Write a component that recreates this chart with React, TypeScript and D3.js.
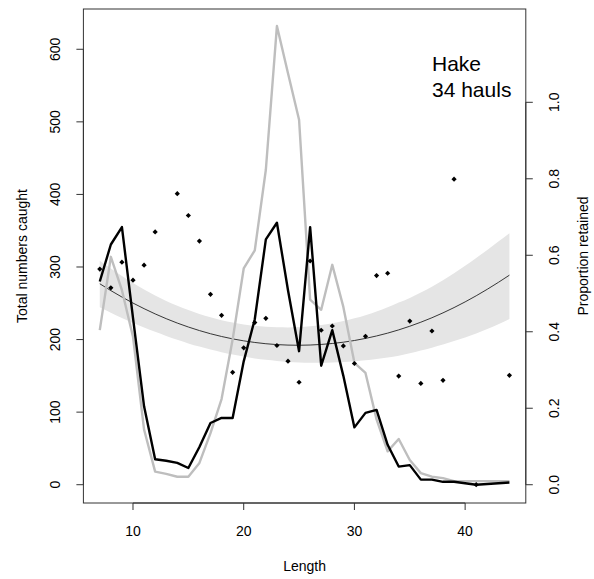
import React from "react";
import * as d3 from "d3";

// Length classes (cm)
const lengths = [7, 8, 9, 10, 11, 12, 13, 14, 15, 16, 17, 18, 19, 20, 21, 22, 23, 24, 25, 26, 27, 28, 29, 30, 31, 32, 33, 34, 35, 36, 37, 38, 39, 40, 41, 42, 43, 44];
// Total numbers caught: retained (black) and other gear (grey)
const catchBlack = [280, 331, 355, 230, 108, 35, 33, 30, 23, 52, 85, 92, 92, 170, 228, 338, 361, 268, 184, 355, 164, 213, 150, 79, 99, 103, 55, 25, 27, 7, 7, 4, 4, 2, 0, 1, 2, 3];
const catchGrey = [213, 314, 268, 204, 76, 18, 15, 11, 11, 30, 71, 118, 200, 298, 323, 434, 632, 567, 503, 255, 241, 303, 245, 168, 154, 90, 46, 63, 34, 16, 11, 9, 5, 5, 5, 5, 5, 5];
// Observed proportion retained
const propLengths = [7, 8, 9, 10, 11, 12, 14, 15, 16, 17, 18, 19, 20, 21, 22, 23, 24, 25, 26, 27, 28, 29, 30, 31, 32, 33, 34, 35, 36, 37, 38, 39, 41, 44];
const propValues = [0.564, 0.515, 0.582, 0.535, 0.574, 0.661, 0.761, 0.704, 0.637, 0.498, 0.443, 0.294, 0.358, 0.424, 0.435, 0.364, 0.323, 0.268, 0.585, 0.404, 0.415, 0.363, 0.317, 0.388, 0.547, 0.553, 0.284, 0.428, 0.265, 0.402, 0.273, 0.799, 0.0, 0.286];
// Fitted proportion and confidence band
const fitP = [0.5255, 0.5076, 0.4908, 0.475, 0.4604, 0.4467, 0.4342, 0.4227, 0.4124, 0.4031, 0.3948, 0.3876, 0.3814, 0.3762, 0.372, 0.3687, 0.3664, 0.3651, 0.3647, 0.3653, 0.3668, 0.3693, 0.3727, 0.3771, 0.3826, 0.389, 0.3964, 0.4049, 0.4144, 0.425, 0.4366, 0.4494, 0.4632, 0.4781, 0.4941, 0.5111, 0.5291, 0.548];
const fitLo = [0.4643, 0.4498, 0.4362, 0.4231, 0.4113, 0.3997, 0.389, 0.3788, 0.3696, 0.3612, 0.3534, 0.3465, 0.3403, 0.335, 0.3303, 0.3266, 0.3235, 0.3211, 0.3197, 0.319, 0.3189, 0.3195, 0.3207, 0.3226, 0.3253, 0.3285, 0.3326, 0.3373, 0.3439, 0.351, 0.3585, 0.3667, 0.3757, 0.3852, 0.3957, 0.4072, 0.4199, 0.4336];
const fitHi = [0.5859, 0.5652, 0.5457, 0.5275, 0.5103, 0.4948, 0.4806, 0.4679, 0.4566, 0.4466, 0.4378, 0.4304, 0.4242, 0.4193, 0.4156, 0.413, 0.4116, 0.4114, 0.4122, 0.4143, 0.4175, 0.4221, 0.4279, 0.435, 0.4433, 0.4529, 0.4639, 0.4762, 0.4885, 0.5024, 0.518, 0.5349, 0.5529, 0.5726, 0.593, 0.6141, 0.6357, 0.6576];

const xTicks = [10, 20, 30, 40];
const yLeftTicks = [0, 100, 200, 300, 400, 500, 600];
const yRightTicks = [0, 0.2, 0.4, 0.6, 0.8, 1.0];

const W = 594;
const H = 579;
const L = 83.4, R = 525.8, T = 9, B = 503;
const FONT = "'Liberation Sans', Arial, Helvetica, sans-serif";

export default function App() {
  const x = d3.scaleLinear().domain([5.52, 45.48]).range([L, R]);
  const yL = d3.scaleLinear().domain([-25.2, 655.5]).range([B, T]);
  const yR = d3.scaleLinear().domain([-0.0478, 1.244]).range([B, T]);

  const lineL = (vals: number[]) =>
    d3.line<number>().x((_, i) => x(lengths[i])).y((v) => yL(v))(vals) || "";
  const fitLine = d3.line<number>().x((_, i) => x(lengths[i])).y((v) => yR(v)).curve(d3.curveMonotoneX)(fitP) || "";
  const band = d3.area<number>()
    .x((_, i) => x(lengths[i]))
    .y0((_, i) => yR(fitLo[i]))
    .y1((_, i) => yR(fitHi[i]))
    .curve(d3.curveMonotoneX)(fitP) || "";

  const tick = 7;
  const axisColor = "#333";
  const fs = 14;

  return (
    <svg width={W} height={H} style={{ position: "absolute", left: 0, top: 0, background: "#fff" }} fontFamily={FONT}>
      <rect x={0} y={0} width={W} height={H} fill="#fff" />
      <path d={band} fill="#e5e5e5" stroke="none" />
      <path d={fitLine} fill="none" stroke="#222" strokeWidth={0.9} />
      <path d={lineL(catchGrey)} fill="none" stroke="#bebebe" strokeWidth={2.4} strokeLinejoin="round" />
      <path d={lineL(catchBlack)} fill="none" stroke="#000" strokeWidth={2.4} strokeLinejoin="round" />
      {propLengths.map((l, i) => {
        const cx = x(l), cy = yR(propValues[i]);
        const s = 2.6;
        return <path key={i} d={`M${cx},${cy - s}L${cx + s},${cy}L${cx},${cy + s}L${cx - s},${cy}Z`} fill="#000" />;
      })}

      {/* box */}
      <rect x={L} y={T} width={R - L} height={B - T} fill="none" stroke={axisColor} strokeWidth={1} />

      {/* bottom axis */}
      <line x1={x(xTicks[0])} x2={x(xTicks[xTicks.length - 1])} y1={B} y2={B} stroke={axisColor} />
      {xTicks.map((t) => (
        <g key={t}>
          <line x1={x(t)} x2={x(t)} y1={B} y2={B + tick} stroke={axisColor} />
          <text x={x(t)} y={531} dy="0.35em" textAnchor="middle" fontSize={fs} fill="#000">{t}</text>
        </g>
      ))}
      <text x={(L + R) / 2} y={566} dy="0.35em" textAnchor="middle" fontSize={fs} fill="#000">Length</text>

      {/* left axis */}
      <line x1={L} x2={L} y1={yL(0)} y2={yL(600)} stroke={axisColor} />
      {yLeftTicks.map((t) => (
        <g key={t}>
          <line x1={L - tick} x2={L} y1={yL(t)} y2={yL(t)} stroke={axisColor} />
          <text transform={`translate(${L - 28},${yL(t)}) rotate(-90)`} dy="0.35em" textAnchor="middle" fontSize={fs} fill="#000">{t}</text>
        </g>
      ))}
      <text transform={`translate(22,${(T + B) / 2}) rotate(-90)`} dy="0.35em" textAnchor="middle" fontSize={fs} fill="#000">Total numbers caught</text>

      {/* right axis */}
      <line x1={R} x2={R} y1={yR(0)} y2={yR(1)} stroke={axisColor} />
      {yRightTicks.map((t) => (
        <g key={t}>
          <line x1={R} x2={R + tick} y1={yR(t)} y2={yR(t)} stroke={axisColor} />
          <text transform={`translate(${R + 28},${yR(t)}) rotate(-90)`} dy="0.35em" textAnchor="middle" fontSize={fs} fill="#000">{t.toFixed(1)}</text>
        </g>
      ))}
      <text transform={`translate(583,${(T + B) / 2}) rotate(-90)`} dy="0.35em" textAnchor="middle" fontSize={fs} fill="#000">Proportion retained</text>

      {/* annotation */}
      <text x={432} y={71} fontSize={21} fill="#000">Hake</text>
      <text x={432} y={97} fontSize={21} fill="#000">34 hauls</text>
    </svg>
  );
}
